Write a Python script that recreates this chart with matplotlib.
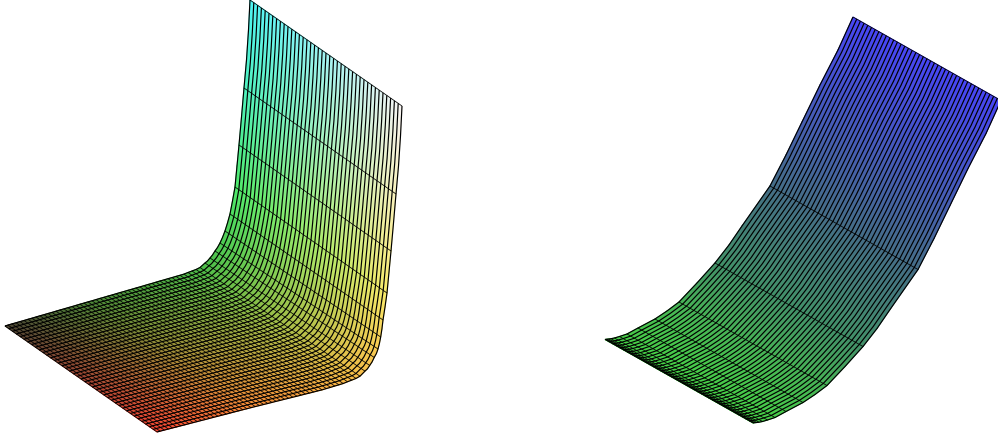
import numpy as np
import matplotlib
matplotlib.use("Agg")
import matplotlib.pyplot as plt
from matplotlib.collections import LineCollection

# Left surface: back edge (image pixels), one entry per mesh row
left_x = [250, 244, 239, 235, 230, 225, 220, 215, 210, 205, 200, 196, 192, 188,
          184, 180, 176, 172, 168, 164, 160, 156, 152, 148, 144, 140, 136, 132,
          128, 124, 120, 116, 112, 108, 104, 100, 96, 92, 88, 84, 80, 76, 72,
          68, 64, 60, 56, 52, 48, 44, 40, 36, 32, 28, 24, 20, 16, 12, 8, 5]
left_y = [0, 88, 145, 187, 214, 231, 243, 251, 258, 263, 267.5, 269.5, 271, 272.5,
          274.1, 275.3, 276.4, 277.6, 278.7, 279.9, 281.0, 282.2, 283.4, 284.5,
          285.7, 286.9, 288.0, 289.2, 290.3, 291.5, 292.6, 293.8, 295.0, 296.1,
          297.3, 298.4, 299.6, 300.8, 301.9, 303.1, 304.2, 305.4, 306.6, 307.7,
          308.9, 310.0, 311.2, 312.4, 313.5, 314.7, 315.8, 317.0, 318.2, 319.3,
          320.5, 321.6, 322.8, 323.9, 325.1, 326]
# extra outline points between the rows so the wall bends smoothly
left_extra_x = [248.5, 246.5, 241.5, 237, 232.5, 227.5, 222.5, 217.5, 212.5, 207.5]
left_extra_y = [30, 60, 117, 166, 201, 223, 237.5, 247.5, 255, 261]
left_shift = (152, 106)
# the knee sits further out on the front edge
left_knee_y = [0, 187, 214, 233, 248, 262, 270, 280, 300, 326]
left_knee_dx = [0, 0, 1, 4, 7, 8, 8, 6, 3, 0]
left_knee_dy = [0, 0, 0, 0, 0, 2, 3, 4, 2, 0]

# Right surface: rows pack together at the bottom
right_x = [853, 770, 715, 679, 655, 638, 627, 619.5, 614.5, 611, 608.7, 607, 606, 605.5, 605]
right_y = [17, 186, 263, 302, 319, 328, 334, 336.5, 338, 338.7, 339, 339.2, 339.3, 339.4, 339.5]
right_extra_x = [838, 820, 802, 786, 742, 729, 697, 667]
right_extra_y = [50, 85, 122, 155, 226, 245, 283, 311]
right_shift = (148, 83.5)

n_cols = 40

# colour stops, keyed on the image height of the back edge
left_stop_y = [0, 88, 187, 270, 300, 326]
left_green = [.96, .95, .92, .74, .55, .27]
left_blue = [.96, .75, .42, .28, .22, .20]
left_red = [.3, .98]

right_stop_y = [17, 186, 263, 302, 339]
right_red = [.28, .27, .26, .28, .28]
right_green = [.27, .43, .57, .70, .82]
right_blue = [.97, .53, .41, .34, .28]


def surface_grid(rx, ry, ex, ey):
    # rows plus the extra outline points, top to bottom
    px = np.array(list(rx) + list(ex), dtype=float)
    py = np.array(list(ry) + list(ey), dtype=float)
    order = np.argsort(-px)
    return px[order], py[order]


def draw_lines(ax, X, Y, rx):
    # column lines follow the whole outline, row lines only at the real rows
    cols = [np.column_stack((X[:, j], Y[:, j])) for j in range(X.shape[1])]
    idx = np.searchsorted(-X[:, 0], -np.array(rx, dtype=float))
    rows = [np.column_stack((X[i, :], Y[i, :])) for i in idx]
    ax.add_collection(LineCollection(cols, colors="black", linewidths=0.85))
    ax.add_collection(LineCollection(rows, colors="black", linewidths=0.55))


fig = plt.figure(figsize=(9.98, 4.45), dpi=100)
ax = fig.add_axes([0, 0, 1, 1])
u = np.linspace(0, 1, n_cols + 1)

# left one: red runs across the width, green and blue up the profile
px, py = surface_grid(left_x, left_y, left_extra_x, left_extra_y)
dx = np.interp(py, left_knee_y, left_knee_dx)
dy = np.interp(py, left_knee_y, left_knee_dy)
X = px[:, None] + u * (left_shift[0] + dx[:, None])
Y = py[:, None] + u * (left_shift[1] + dy[:, None])
rgb = np.zeros(X.shape + (3,))
rgb[..., 0] = np.interp(u, [0, 1], left_red)
rgb[..., 1] = np.interp(py, left_stop_y, left_green)[:, None]
rgb[..., 2] = np.interp(py, left_stop_y, left_blue)[:, None]
ax.pcolormesh(X, Y, rgb, shading="gouraud")
draw_lines(ax, X, Y, left_x)

# right one: colour changes only along the profile
px, py = surface_grid(right_x, right_y, right_extra_x, right_extra_y)
X = px[:, None] + u * right_shift[0]
Y = py[:, None] + u * right_shift[1]
rgb = np.zeros(X.shape + (3,))
rgb[..., 0] = np.interp(py, right_stop_y, right_red)[:, None]
rgb[..., 1] = np.interp(py, right_stop_y, right_green)[:, None]
rgb[..., 2] = np.interp(py, right_stop_y, right_blue)[:, None]
ax.pcolormesh(X, Y, rgb, shading="gouraud")
draw_lines(ax, X, Y, right_x)

ax.set_xlim(0, 998)
ax.set_ylim(445, 0)
ax.axis("off")

fig.savefig("out.png", dpi=100)
